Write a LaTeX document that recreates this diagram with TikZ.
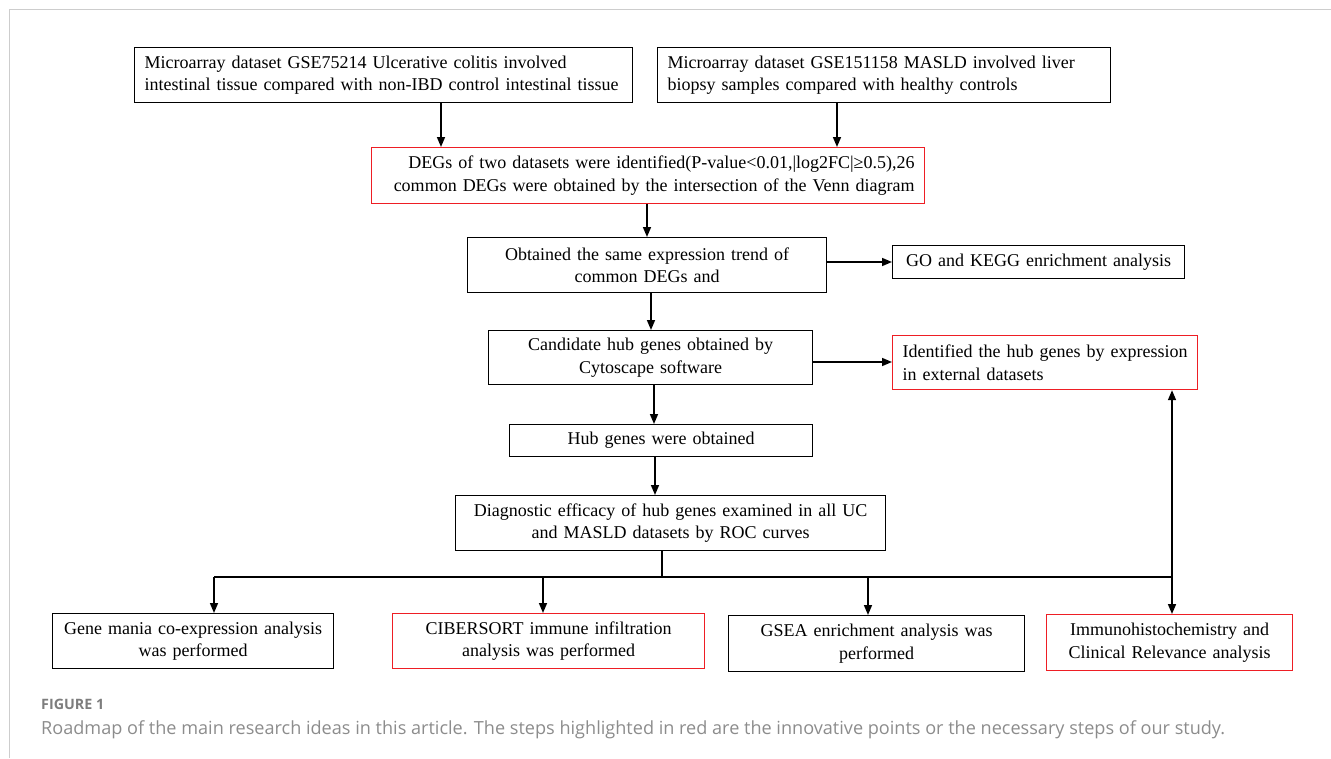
\documentclass[tikz,border=0pt]{standalone}
\usepackage{fontspec}
\setmainfont{Liberation Serif}
\newfontfamily\capfont{Open Sans}
\usetikzlibrary{arrows.meta}
\definecolor{boxred}{RGB}{238,30,36}
\definecolor{framegray}{RGB}{205,205,205}
\definecolor{capgray}{RGB}{140,140,140}
\definecolor{figgray}{RGB}{125,125,125}
\begin{document}
\begin{tikzpicture}[x=1pt,y=-1pt,
  every node/.style={font=\fontsize{18}{22.5}\selectfont},
  box/.style={draw=black, line width=1.2pt, anchor=north west, inner ysep=0pt},
  redbox/.style={box, draw=boxred},
  arr/.style={line width=1.6pt, -{Triangle[length=10pt,width=8pt]}},
  ln/.style={line width=1.6pt}]
\useasboundingbox (0,0) rectangle (1331,758);
\draw[framegray, line width=1pt] (9,758) -- (9,9.5) -- (1331,9.5);

% boxes
\node[box, minimum width=498pt, minimum height=55pt, text width=478pt, inner xsep=10pt, align=left] (A) at (134,47)
  {\mbox{Microarray dataset GSE75214 Ulcerative colitis involved}\\\mbox{intestinal tissue compared with non-IBD control intestinal tissue}};
\node[box, minimum width=453pt, minimum height=55pt, text width=433pt, inner xsep=10pt, align=left] (B) at (657,47)
  {\mbox{Microarray dataset GSE151158 MASLD involved liver}\\\mbox{biopsy samples compared with healthy controls}};
\node[redbox, minimum width=553pt, minimum height=56pt, text width=533pt, inner xsep=10pt, align=right] (C) at (371,147)
  {\mbox{DEGs of two datasets were identified(P-value<0.01,|log2FC|≥0.5),26}\\\mbox{common DEGs were obtained by the intersection of the Venn diagram}};
\node[box, minimum width=359pt, minimum height=55pt, text width=349pt, inner xsep=5pt, align=center] (D) at (467,237)
  {Obtained the same expression trend of\\common DEGs and};
\node[box, minimum width=292pt, minimum height=33pt, text width=282pt, inner xsep=5pt, align=center] (E) at (892,245)
  {\mbox{GO and KEGG enrichment analysis}};
\node[box, minimum width=324pt, minimum height=54pt, text width=314pt, inner xsep=5pt, align=center] (F) at (488,330)
  {Candidate hub genes obtained by\\Cytoscape software};
\node[redbox, minimum width=305pt, minimum height=54pt, text width=289pt, inner xsep=8pt, align=left] (G) at (892,335)
  {\mbox{\hspace*{2pt}Identified the hub genes by expression}\\\mbox{\hspace*{2pt}in external datasets}};
\node[box, minimum width=303pt, minimum height=32pt, text width=293pt, inner xsep=5pt, align=center] (H) at (509,424)
  {Hub genes were obtained};
\node[box, minimum width=430pt, minimum height=55pt, text width=420pt, inner xsep=5pt, align=center] (I) at (455,495)
  {\mbox{Diagnostic efficacy of hub genes examined in all UC}\\and MASLD datasets by ROC curves};
\node[box, minimum width=281pt, minimum height=55pt, text width=271pt, inner xsep=5pt, align=center] (J) at (52,613)
  {\mbox{Gene mania co-expression analysis}\\was performed};
\node[redbox, minimum width=312pt, minimum height=55pt, text width=302pt, inner xsep=5pt, align=center] (K) at (392,613)
  {CIBERSORT immune infiltration\\analysis was performed};
\node[box, minimum width=296pt, minimum height=56pt, text width=286pt, inner xsep=5pt, align=center] (L) at (728,615)
  {GSEA enrichment analysis was\\performed};
\node[redbox, minimum width=246pt, minimum height=56pt, text width=236pt, inner xsep=5pt, align=center] (M) at (1046,614)
  {\mbox{Immunohistochemistry and}\\\mbox{Clinical Relevance analysis}};

% helper coordinates
\coordinate (xa) at (441,0);
\coordinate (xb) at (837,0);
\coordinate (xc) at (647,0);
\coordinate (xd) at (651,0);
\coordinate (xf) at (654,0);
\coordinate (xh) at (655,0);
\coordinate (bus) at (662,577);
\coordinate (busJ) at (214,577);
\coordinate (busK) at (543,577);
\coordinate (busL) at (868,577);
\coordinate (busM) at (1172,577);
\coordinate (yde) at (0,262);
\coordinate (yfg) at (0,362);

% connectors
\draw[arr] (A.south -| xa) -- (C.north -| xa);
\draw[arr] (B.south -| xb) -- (C.north -| xb);
\draw[arr] (C.south -| xc) -- (D.north -| xc);
\draw[arr] (D.east |- yde) -- (E.west |- yde);
\draw[arr] (D.south -| xd) -- (F.north -| xd);
\draw[arr] (F.east |- yfg) -- (G.west |- yfg);
\draw[arr] (F.south -| xf) -- (H.north -| xf);
\draw[arr] (H.south -| xh) -- (I.north -| xh);
\draw[ln] (I.south -| bus) -- (bus);
\draw[ln] (busJ) -- (busM);
\draw[arr] (busJ) -- (J.north -| busJ);
\draw[arr] (busK) -- (K.north -| busK);
\draw[arr] (busL) -- (L.north -| busL);
\draw[arr] (busM) -- (M.north -| busM);
\draw[arr] (busM) -- (G.south -| busM);

% caption
\node[anchor=base west, inner sep=0pt, font=\capfont\bfseries\fontsize{14.3}{16}\selectfont, text=figgray] (figlab) at (41,709) {FIGURE 1};
\node[anchor=base west, inner sep=0pt, font=\capfont\fontsize{18.1}{22}\selectfont, text=capgray] (captxt) at (41,734)
  {Roadmap of the main research ideas in this article. The steps highlighted in red are the innovative points or the necessary steps of our study.};
\end{tikzpicture}
\end{document}
